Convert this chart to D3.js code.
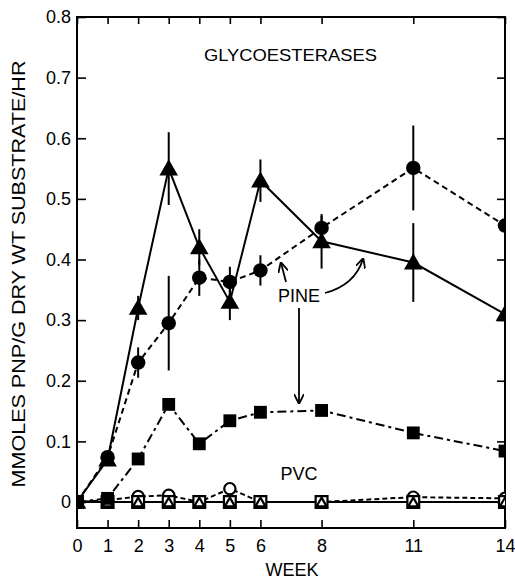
<!DOCTYPE html>
<html>
<head>
<meta charset="utf-8">
<script src="https://cdn.jsdelivr.net/npm/d3@7"></script>
<style>
  body { margin:0; background:#fff; }
  svg { display:block; }
  text { font-family:"Liberation Sans", Arial, sans-serif; fill:#000; }
</style>
</head>
<body>
<svg id="graph"></svg>
<script>
// weeks on the x axis
var weeks = [0, 1, 2, 3, 4, 5, 6, 8, 11, 14];
var yTicks = [0, 0.1, 0.2, 0.3, 0.4, 0.5, 0.6, 0.7, 0.8];

// pine
var pineTri     = [0, 0.07, 0.32, 0.55, 0.42, 0.33, 0.53, 0.43, 0.395, 0.31];
var pineTriErr  = [0, 0, 0.02, 0.06, 0.03, 0.03, 0.035, 0.045, 0.065, 0.04];
var pineCirc    = [0, 0.074, 0.23, 0.295, 0.37, 0.363, 0.382, 0.452, 0.551, 0.456];
var pineCircErr = [0, 0, 0.025, 0.078, 0.03, 0.025, 0.025, 0.02, 0.07, 0.02];
var pineSq      = [0, 0.006, 0.071, 0.161, 0.096, 0.134, 0.148, 0.151, 0.114, 0.084];

// pvc
var pvcCirc = [0, 0.003, 0.009, 0.011, 0, 0.022, 0, 0, 0.008, 0.006];
var pvcTri  = [0, 0, 0, 0, 0, 0, 0, 0, 0, 0];
var pvcSq   = [0, 0, 0, 0, 0, 0, 0, 0, 0, 0];

var screen = {width:515, height:581};
var box = {left:77, right:505, top:17, bottom:528};

var svg = d3.select("#graph")
  .attr("width", screen.width)
  .attr("height", screen.height);

var xScale = d3.scaleLinear().domain([0, 14]).range([box.left, box.right]);
var yScale = d3.scaleLinear().domain([0, 0.8]).range([502, box.top]);

var defs = svg.append("defs");
defs.append("clipPath").attr("id", "plotclip")
  .append("rect")
  .attr("x", box.left).attr("y", box.top)
  .attr("width", box.right - box.left).attr("height", box.bottom - box.top);

defs.append("marker")
  .attr("id", "arrowhead")
  .attr("viewBox", "0 0 10 10")
  .attr("refX", 9).attr("refY", 5)
  .attr("markerWidth", 10).attr("markerHeight", 10)
  .attr("markerUnits", "userSpaceOnUse")
  .attr("orient", "auto")
  .append("path")
  .attr("d", "M0,0 L10,5 L0,10")
  .attr("fill", "none").attr("stroke", "#000").attr("stroke-width", 1.8);

// axes
var fmt = function(d){ return d === 0 ? "0" : d3.format(".1f")(d); };

var yAxis = svg.append("g")
  .attr("transform", "translate(" + box.left + ",0)")
  .call(d3.axisLeft(yScale).tickValues(yTicks).tickFormat(fmt).tickSize(-9).tickPadding(6));
yAxis.selectAll("text").style("font-size", "18px");

var xAxis = svg.append("g")
  .attr("transform", "translate(0," + box.bottom + ")")
  .call(d3.axisBottom(xScale).tickValues(weeks).tickFormat(d3.format("d")).tickSize(-8).tickPadding(11));
xAxis.selectAll("text").style("font-size", "18px");

svg.append("g")
  .attr("transform", "translate(0," + box.top + ")")
  .call(d3.axisTop(xScale).tickValues(weeks).tickFormat("").tickSize(-7));

svg.append("g")
  .attr("transform", "translate(" + box.right + ",0)")
  .call(d3.axisRight(yScale).tickValues(yTicks).tickFormat("").tickSize(-8));

svg.selectAll(".domain").remove();
svg.selectAll(".tick line").attr("stroke", "#000").attr("stroke-width", 1.6);

svg.append("rect")
  .attr("x", box.left).attr("y", box.top)
  .attr("width", box.right - box.left).attr("height", box.bottom - box.top)
  .attr("fill", "none").attr("stroke", "#000").attr("stroke-width", 2);

// series
var plot = svg.append("g").attr("clip-path", "url(#plotclip)");

var drawLine = function(vals, dash){
  var line = d3.line()
    .x(function(d, i){ return xScale(weeks[i]); })
    .y(function(d){ return yScale(d); });
  plot.append("path")
    .datum(vals)
    .attr("d", line)
    .attr("fill", "none")
    .attr("stroke", "#000")
    .attr("stroke-width", 2)
    .attr("stroke-dasharray", dash);
};

var drawErr = function(vals, errs){
  var pts = vals.map(function(v, i){ return {week:weeks[i], v:v, e:errs[i]}; })
    .filter(function(p){ return p.e > 0; });
  plot.selectAll(null)
    .data(pts)
    .enter()
    .append("line")
    .attr("x1", function(p){ return xScale(p.week); })
    .attr("x2", function(p){ return xScale(p.week); })
    .attr("y1", function(p){ return yScale(p.v + p.e); })
    .attr("y2", function(p){ return yScale(p.v - p.e); })
    .attr("stroke", "#000")
    .attr("stroke-width", 2);
};

var drawMarks = function(vals, shape, size, open){
  var sym = {circle:d3.symbolCircle, square:d3.symbolSquare, triangle:d3.symbolTriangle}[shape];
  plot.selectAll(null)
    .data(vals)
    .enter()
    .append("path")
    .attr("d", d3.symbol().type(sym).size(size))
    .attr("transform", function(d, i){
      var dy = shape === "triangle" ? 1.5 : 0;
      return "translate(" + xScale(weeks[i]) + "," + (yScale(d) + dy) + ")";
    })
    .attr("fill", open ? "#fff" : "#000")
    .attr("stroke", "#000")
    .attr("stroke-width", open ? 2.2 : 0);
};

drawLine(pvcSq, "9,4,3,4");
drawLine(pvcTri, null);
drawLine(pvcCirc, "5,3");
drawLine(pineSq, "9,4,3,4");
drawLine(pineCirc, "6,4");
drawLine(pineTri, null);

drawErr(pineTri, pineTriErr);
drawErr(pineCirc, pineCircErr);

drawMarks(pvcCirc, "circle", 100, true);
drawMarks(pvcSq, "square", 140, true);
drawMarks(pvcTri, "triangle", 45, true);
drawMarks(pineSq, "square", 165, false);
drawMarks(pineCirc, "circle", 165, false);
drawMarks(pineTri, "triangle", 150, false);

// labels
svg.append("text")
  .attr("x", 204).attr("y", 61)
  .attr("textLength", 173).attr("lengthAdjust", "spacingAndGlyphs")
  .style("font-size", "17px")
  .text("GLYCOESTERASES");

svg.append("text")
  .attr("x", 292).attr("y", 576)
  .attr("text-anchor", "middle")
  .style("font-size", "18px")
  .text("WEEK");

svg.append("text")
  .attr("transform", "translate(25,274) rotate(-90)")
  .attr("text-anchor", "middle")
  .attr("textLength", 427).attr("lengthAdjust", "spacingAndGlyphs")
  .style("font-size", "18px")
  .text("MMOLES PNP/G DRY WT SUBSTRATE/HR");

svg.append("text")
  .attr("x", 299).attr("y", 302)
  .attr("text-anchor", "middle")
  .style("font-size", "18px")
  .text("PINE");

svg.append("text")
  .attr("x", 299).attr("y", 480)
  .attr("text-anchor", "middle")
  .style("font-size", "18px")
  .text("PVC");

// arrows from PINE
var arrow = function(d){
  svg.append("path")
    .attr("d", d)
    .attr("fill", "none")
    .attr("stroke", "#000")
    .attr("stroke-width", 1.8)
    .attr("marker-end", "url(#arrowhead)");
};
arrow("M286,282 L281,263");
arrow("M325,293 Q355,285 363,259");
arrow("M299,308 L299,403");
</script>
</body>
</html>
